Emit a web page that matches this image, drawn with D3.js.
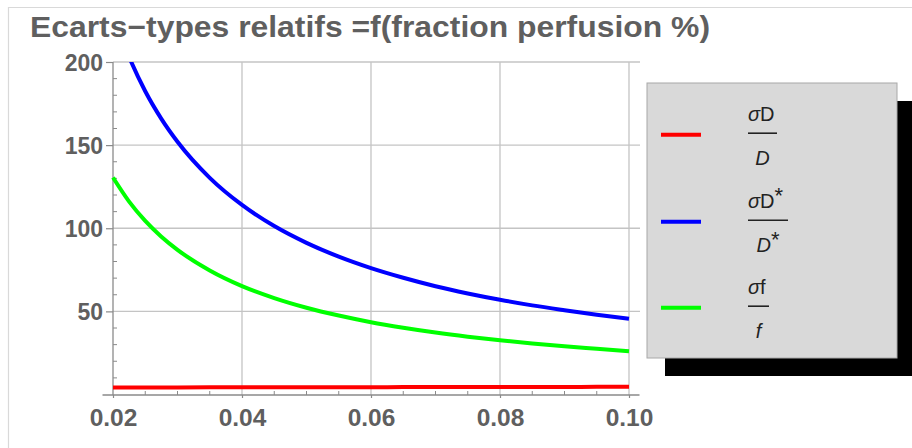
<!DOCTYPE html>
<html>
<head>
<meta charset="utf-8">
<script src="https://cdn.jsdelivr.net/npm/d3@7"></script>
<style>
  html, body { margin: 0; padding: 0; background: #fff; }
  svg { display: block; }
</style>
</head>
<body>
<svg id="chart" width="912" height="448"></svg>
<script>
// ---- data ----
const titleText = "Ecarts\u2212types relatifs =f(fraction perfusion %)";
const fraction = [0.02, 0.0225, 0.025, 0.0275, 0.03, 0.035, 0.04, 0.045, 0.05, 0.055, 0.06, 0.065, 0.07, 0.075, 0.08, 0.085, 0.09, 0.095, 0.10];
const sigmaD_D = [4.2, 4.2, 4.2, 4.2, 4.25, 4.3, 4.3, 4.35, 4.35, 4.4, 4.4, 4.45, 4.45, 4.5, 4.5, 4.55, 4.55, 4.6, 4.6];
const sigmaDstar_Dstar = [228, 203, 182.4, 165.8, 152, 130.3, 114, 101.3, 91.2, 82.9, 76, 70.2, 65.1, 60.8, 57, 53.6, 50.7, 48, 45.6];
const sigmaF_f = [130.5, 116, 104.4, 94.9, 87, 74.6, 65.2, 58, 52.2, 47.5, 43.5, 40.2, 37.3, 34.8, 32.6, 30.7, 29, 27.5, 26];
const xTicks = [0.02, 0.04, 0.06, 0.08, 0.10];
const xMinorTicks = [0.025, 0.03, 0.035, 0.045, 0.05, 0.055, 0.065, 0.07, 0.075, 0.085, 0.09, 0.095];
const yTicks = [50, 100, 150, 200];
const yMinorTicks = [10, 20, 30, 40, 60, 70, 80, 90, 110, 120, 130, 140, 160, 170, 180, 190];
const seriesNames = ["sigmaD/D", "sigmaD*/D*", "sigmaf/f"];
const seriesColors = ["#ff0000", "#0000ff", "#00ff00"];

const series = [
  { name: seriesNames[0], color: seriesColors[0], values: sigmaD_D },
  { name: seriesNames[1], color: seriesColors[1], values: sigmaDstar_Dstar },
  { name: seriesNames[2], color: seriesColors[2], values: sigmaF_f }
];

// ---- layout ----
const svg = d3.select("#chart");
const x = d3.scaleLinear().domain([0.02, 0.10]).range([113, 629]);
const y = d3.scaleLinear().domain([0, 200]).range([394.5, 62]);
const axisY0 = 395;
const gridRight = 640;
const labelColor = "#5f5f5f";

// outer frame lines
svg.append("line").attr("x1", 8).attr("x2", 912).attr("y1", 7.5).attr("y2", 7.5)
  .attr("stroke", "#d9d9d9").attr("stroke-width", 1.2);
svg.append("line").attr("x1", 8.5).attr("x2", 8.5).attr("y1", 7).attr("y2", 448)
  .attr("stroke", "#d9d9d9").attr("stroke-width", 1.2);

// title
svg.append("text")
  .attr("x", 30).attr("y", 37)
  .attr("font-family", "Liberation Sans, Arial, sans-serif")
  .attr("font-weight", "bold")
  .attr("font-size", 29)
  .attr("fill", labelColor)
  .attr("textLength", 680)
  .attr("lengthAdjust", "spacingAndGlyphs")
  .text(titleText);

// gridlines
const grid = svg.append("g").attr("stroke", "#c4c4c4").attr("stroke-width", 1.3);
grid.selectAll("line.h").data(yTicks).join("line")
  .attr("x1", x(0.02)).attr("x2", gridRight)
  .attr("y1", d => y(d)).attr("y2", d => y(d));
grid.selectAll("line.v").data(xTicks.slice(1)).join("line")
  .attr("x1", d => x(d)).attr("x2", d => x(d))
  .attr("y1", y(200)).attr("y2", axisY0);

// axes via d3 axis generators
const axisColor = "#8a8a8a";
const yAxisG = svg.append("g").attr("transform", `translate(${x(0.02)},0)`)
  .call(d3.axisLeft(y).tickValues(yTicks).tickSize(7).tickPadding(3).tickFormat(d3.format("d")));
yAxisG.select(".domain").remove();
yAxisG.selectAll(".tick line").attr("stroke", axisColor).attr("stroke-width", 1.2);
yAxisG.selectAll(".tick text")
  .attr("font-family", "Liberation Sans, Arial, sans-serif")
  .attr("font-weight", "bold").attr("font-size", 23).attr("fill", labelColor)
  .attr("dy", "0.36em");
// minor y ticks (inside)
svg.append("g").selectAll("line").data(yMinorTicks).join("line")
  .attr("x1", x(0.02)).attr("x2", x(0.02) + 4)
  .attr("y1", d => y(d)).attr("y2", d => y(d))
  .attr("stroke", axisColor).attr("stroke-width", 1);
// y axis line
svg.append("line").attr("x1", x(0.02)).attr("x2", x(0.02))
  .attr("y1", y(200)).attr("y2", axisY0)
  .attr("stroke", axisColor).attr("stroke-width", 1.3);

const xAxisG = svg.append("g").attr("transform", `translate(0,${axisY0})`)
  .call(d3.axisBottom(x).tickValues(xTicks).tickSize(3).tickPadding(11).tickFormat(d3.format(".2f")));
xAxisG.select(".domain").remove();
xAxisG.selectAll(".tick line").attr("stroke", axisColor).attr("stroke-width", 1.2);
xAxisG.selectAll(".tick text")
  .attr("font-family", "Liberation Sans, Arial, sans-serif")
  .attr("font-weight", "bold").attr("font-size", 24.5).attr("fill", labelColor);
// minor x ticks (inside)
svg.append("g").selectAll("line").data(xMinorTicks).join("line")
  .attr("x1", d => x(d)).attr("x2", d => x(d))
  .attr("y1", axisY0).attr("y2", axisY0 - 4)
  .attr("stroke", axisColor).attr("stroke-width", 1);
// x axis line
svg.append("line").attr("x1", 102.5).attr("x2", 639.5)
  .attr("y1", axisY0).attr("y2", axisY0)
  .attr("stroke", axisColor).attr("stroke-width", 1.3);

// clip to plot range
svg.append("defs").append("clipPath").attr("id", "plotClip")
  .append("rect").attr("x", 100).attr("y", y(200)).attr("width", 545).attr("height", axisY0 - y(200) + 5);

const line = d3.line()
  .x((d, i) => x(fraction[i]))
  .y(d => y(d))
  .curve(d3.curveMonotoneX);

svg.append("g").attr("clip-path", "url(#plotClip)")
  .selectAll("path").data(series).join("path")
  .attr("d", d => line(d.values))
  .attr("fill", "none")
  .attr("stroke", d => d.color)
  .attr("stroke-width", 4);

// ---- legend ----
const lg = svg.append("g");
lg.append("rect").attr("x", 665).attr("y", 101).attr("width", 250).attr("height", 275).attr("fill", "#000");
lg.append("rect").attr("x", 647).attr("y", 83).attr("width", 250).attr("height", 275)
  .attr("fill", "#d9d9d9").attr("stroke", "#a8a8a8").attr("stroke-width", 1);

const legendRowsY = [134.7, 221.7, 307.7];
lg.selectAll("line.sw").data(series).join("line")
  .attr("x1", 661).attr("x2", 701)
  .attr("y1", (d, i) => legendRowsY[i]).attr("y2", (d, i) => legendRowsY[i])
  .attr("stroke", d => d.color).attr("stroke-width", 4);

const fFont = "Liberation Sans, Arial, sans-serif";
const fSize = 20;
const ink = "#222";

function fraction_(cy, num, den, barW) {
  const g = lg.append("g").attr("font-family", fFont).attr("font-size", fSize).attr("fill", ink);
  const nt = g.append("text").attr("x", 748).attr("y", cy - 13.5);
  num(nt);
  g.append("line").attr("x1", 748).attr("x2", 748 + barW)
    .attr("y1", cy - 1.5).attr("y2", cy - 1.5).attr("stroke", ink).attr("stroke-width", 1.6);
  const dt = g.append("text").attr("x", 748 + barW / 2).attr("y", cy + 30).attr("text-anchor", "middle");
  den(dt);
}

fraction_(legendRowsY[0] , t => {
  t.append("tspan").attr("font-style", "italic").text("\u03c3");
  t.append("tspan").text("D");
}, t => {
  t.append("tspan").attr("font-style", "italic").text("D");
}, 29);

fraction_(legendRowsY[1], t => {
  t.append("tspan").attr("font-style", "italic").text("\u03c3");
  t.append("tspan").text("D");
  t.append("tspan").attr("font-size", 22).attr("dy", -5).text("*");
}, t => {
  t.append("tspan").attr("font-style", "italic").text("D");
  t.append("tspan").attr("font-size", 22).attr("dy", -5).text("*");
}, 40);

fraction_(legendRowsY[2], t => {
  t.append("tspan").attr("font-style", "italic").text("\u03c3");
  t.append("tspan").text("f");
}, t => {
  t.append("tspan").attr("font-style", "italic").text("f");
}, 21);
</script>
</body>
</html>
